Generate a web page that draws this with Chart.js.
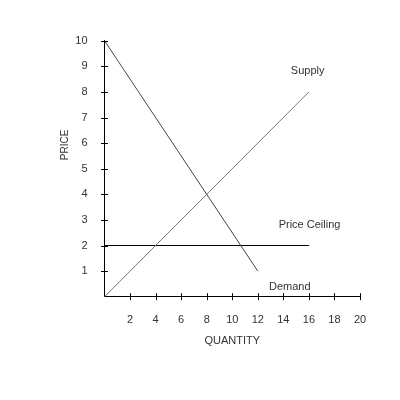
<!DOCTYPE html>
<html lang="en">
<head>
<meta charset="UTF-8">
<title>Price Ceiling</title>
<script src="https://cdn.jsdelivr.net/npm/chart.js"></script>
<style>
  html, body { margin: 0; padding: 0; background: #fff; }
  .box { width: 400px; height: 400px; }
</style>
</head>
<body>
<div class="box"><canvas id="grafico"></canvas></div>
<script>
// data
const demandQ = [0, 12];
const demandP = [10, 1];
const supplyQ = [0, 16];
const supplyP = [0, 8];
const ceilingQ = [0, 16];
const ceilingP = [2, 2];

const xTicks = [2, 4, 6, 8, 10, 12, 14, 16, 18, 20];
const yTicks = [1, 2, 3, 4, 5, 6, 7, 8, 9, 10];

// line labels: [text, quantity, price]
const lineLabels = [
  ['Supply', 15.9, 8.8],
  ['Price Ceiling', 16.05, 2.82],
  ['Demand', 14.5, 0.39]
];

const toPoints = (qs, ps) => qs.map((q, i) => ({ x: q, y: ps[i] }));

const fonte = { family: '"Liberation Sans", Arial, sans-serif', size: 11 };

// small ticks that cross the axis lines, plus the text labels
const extras = {
  id: 'extras',
  afterDraw(chart) {
    const { ctx, scales: { x, y }, chartArea } = chart;
    ctx.save();
    ctx.strokeStyle = '#000';
    ctx.lineWidth = 1;
    ctx.beginPath();
    xTicks.forEach(v => {
      const px = Math.round(x.getPixelForValue(v)) + 0.5;
      ctx.moveTo(px, chartArea.bottom - 3.5);
      ctx.lineTo(px, chartArea.bottom + 3.5);
    });
    yTicks.forEach(v => {
      const py = Math.round(y.getPixelForValue(v)) + 0.5;
      ctx.moveTo(chartArea.left - 3.5, py);
      ctx.lineTo(chartArea.left + 3.5, py);
    });
    ctx.stroke();

    ctx.fillStyle = '#333';
    ctx.font = '11px "Liberation Sans", Arial, sans-serif';
    ctx.textAlign = 'center';
    ctx.textBaseline = 'middle';
    lineLabels.forEach(([t, q, p]) => {
      ctx.fillText(t, x.getPixelForValue(q), y.getPixelForValue(p));
    });

    // y axis title
    ctx.translate(chartArea.left - 39.5, y.getPixelForValue(5.93));
    ctx.rotate(-Math.PI / 2);
    ctx.font = '10px "Liberation Sans", Arial, sans-serif';
    ctx.fillText('PRICE', 0, 0);
    ctx.restore();
  }
};

new Chart(document.getElementById('grafico'), {
  type: 'scatter',
  data: {
    datasets: [
      { label: 'Demand', data: toPoints(demandQ, demandP), borderColor: '#444' },
      { label: 'Supply', data: toPoints(supplyQ, supplyP), borderColor: '#777' },
      { label: 'Price Ceiling', data: toPoints(ceilingQ, ceilingP), borderColor: '#000' }
    ]
  },
  options: {
    responsive: true,
    maintainAspectRatio: false,
    animation: false,
    datasets: {
      scatter: { showLine: true, pointRadius: 0, borderWidth: 1, clip: false }
    },
    layout: { padding: { left: 0, top: 40.7, right: 40, bottom: 48.4 } },
    plugins: {
      legend: { display: false },
      tooltip: { enabled: false }
    },
    scales: {
      x: {
        type: 'linear',
        min: 0,
        max: 20,
        afterFit: s => { s.height = 54.9; },
        afterBuildTicks: s => { s.ticks = xTicks.map(v => ({ value: v })); },
        grid: { display: false, drawTicks: false },
        border: { display: true, color: '#000', width: 1 },
        ticks: { color: '#333', font: fonte, padding: 17, maxRotation: 0 },
        title: { display: true, text: 'QUANTITY', color: '#333', font: fonte }
      },
      y: {
        type: 'linear',
        min: 0,
        max: 10,
        afterFit: s => { s.width = 104.5; },
        afterBuildTicks: s => { s.ticks = yTicks.map(v => ({ value: v })); },
        grid: { display: false, drawTicks: false },
        border: { display: true, color: '#000', width: 1 },
        ticks: { color: '#333', font: fonte, padding: 17 }
      }
    }
  },
  plugins: [extras]
});
</script>
</body>
</html>
